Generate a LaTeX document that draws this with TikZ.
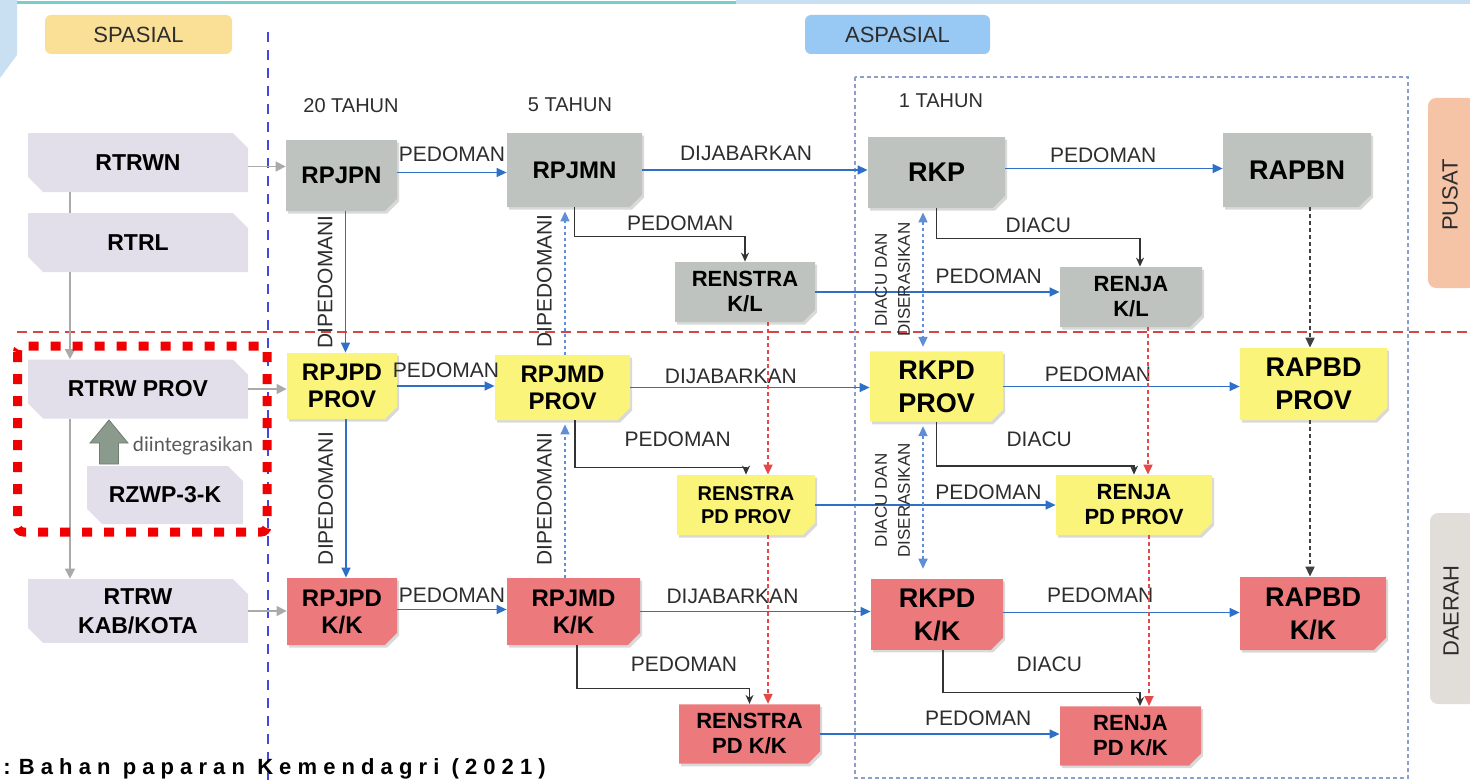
\documentclass[tikz,border=0pt]{standalone}
\usepackage{fontspec}
\setmainfont{Liberation Sans}
\newfontfamily\carlito{Carlito}
\usepackage{tikz}
\usetikzlibrary{calc,positioning,backgrounds}
\usetikzlibrary{shapes,shapes.misc,arrows.meta,shadows}

\definecolor{abu}{RGB}{190,195,192}
\definecolor{kuning}{RGB}{250,244,122}
\definecolor{merah}{RGB}{236,122,124}
\definecolor{lavender}{RGB}{226,222,234}
\definecolor{spasialfill}{RGB}{250,224,150}
\definecolor{aspasialfill}{RGB}{152,200,244}
\definecolor{pusatfill}{RGB}{245,196,166}
\definecolor{daerahfill}{RGB}{225,221,217}
\definecolor{panahbiru}{RGB}{46,112,200}
\definecolor{titikbiru}{RGB}{95,142,215}
\definecolor{titikmerah}{RGB}{228,72,72}
\definecolor{garismerah}{RGB}{210,70,70}
\definecolor{garisungu}{RGB}{70,70,225}
\definecolor{bingkai}{RGB}{140,160,205}
\definecolor{teks}{RGB}{45,45,45}
\definecolor{garisabu}{RGB}{170,170,170}
\definecolor{panahhijau}{RGB}{138,154,140}
\definecolor{hijaugaris}{RGB}{110,125,112}
\definecolor{merahterang}{RGB}{240,0,0}
\definecolor{garisteal}{RGB}{120,205,205}
\definecolor{hiasbiru}{RGB}{200,224,242}

\newcommand{\isibox}{\bfseries\fontsize{12}{13.5}\selectfont}
\newcommand{\isiboxbesar}{\bfseries\fontsize{13.5}{16.5}\selectfont}
\newcommand{\isiboxkecil}{\bfseries\fontsize{11}{12.5}\selectfont}
\newcommand{\isilabel}{\fontsize{10.5}{12}\selectfont}
\newcommand{\isidiacu}{\fontsize{8.5}{11.5}\selectfont}

\begin{document}
\begin{tikzpicture}[x=0.5pt,y=-0.5pt,inner sep=0.4mm,
  dok/.style={chamfered rectangle,chamfered rectangle corners=south east,
    chamfered rectangle xsep=2.5pt,align=center,font=\isibox,text=black,
    drop shadow={shadow xshift=1pt,shadow yshift=-1.3pt,opacity=0.3}},
  ruang/.style={chamfered rectangle,chamfered rectangle corners={north east,south west},
    chamfered rectangle xsep=4pt,fill=lavender,align=center,text=black,
    font=\bfseries\fontsize{11.5}{14.5}\selectfont,minimum width=110pt,minimum height=29.5pt},
  judul/.style={rounded corners=3pt,minimum height=19.5pt,text=teks,
    font=\fontsize{11}{13}\selectfont},
  lbl/.style={font=\isilabel,text=teks},
  tegak/.style={lbl,xshift=-5pt,rotate=90,anchor=south},
  biru/.style={draw=panahbiru,line width=0.7pt,-{Triangle[length=5pt,width=4.5pt]}},
  titik/.style={draw=titikbiru,line width=0.8pt,dash pattern=on 1.5pt off 1.5pt,
    -{Triangle[length=5pt,width=4.5pt]},shorten >=2pt},
  ganda/.style={titik,{Triangle[length=5pt,width=4.5pt]}-{Triangle[length=5pt,width=4.5pt]}},
  hitam/.style={draw=black!80,line width=0.7pt,-{Stealth[length=4.5pt,width=4pt]}},
  merahtitik/.style={draw=titikmerah,line width=0.9pt,dash pattern=on 2pt off 1.5pt,
    -{Triangle[length=5pt,width=4.5pt]}},
  hitamputus/.style={draw=black!75,line width=0.9pt,dash pattern=on 2pt off 1.5pt,
    -{Triangle[length=5pt,width=4.5pt]}},
  abugaris/.style={draw=garisabu,line width=0.8pt},
  abupanah/.style={abugaris,-{Triangle[length=5pt,width=5pt]}}]
\useasboundingbox (0,0) rectangle (1470,781);

% hiasan atas
\fill[hiasbiru] (0,0) -- (17,0) -- (17,55) -- (0,78) -- cycle;
\draw[garisteal,line width=1.5pt] (17,3) -- (736,3);
\draw[hiasbiru,line width=2pt] (736,2) -- (1470,2);

% judul kolom
\node (spasial) at (138.5,34.5) [judul,fill=spasialfill,minimum width=93.5pt] {SPASIAL};
\node (aspasial) at (897.5,34.5) [judul,fill=aspasialfill,minimum width=92.5pt] {ASPASIAL};

% garis pemisah dan bingkai 1 tahun
\draw[garisungu,line width=1.3pt,dash pattern=on 5pt off 4pt] (268,32) -- (268,781);
\draw[garismerah,line width=1.3pt,dash pattern=on 5pt off 3pt] (17,332) -- (1470,332);
\draw[bingkai,line width=0.6pt,dash pattern=on 2pt off 1.5pt] (855,77) rectangle (1408,778);

% tab pusat / daerah
\fill[pusatfill,rounded corners=4pt] (1476,98) -- (1428,98) -- (1428,288) -- (1476,288) -- cycle;
\fill[daerahfill,rounded corners=4pt] (1476,513) -- (1430,513) -- (1430,704) -- (1476,704) -- cycle;
\node (pusat) at (1450,195) [lbl,rotate=90,font=\fontsize{11}{13}\selectfont] {PUSAT};
\node (daerah) at (1451,611) [lbl,rotate=90,font=\fontsize{11}{13}\selectfont] {DAERAH};

% jangka waktu
\node (th20) at (351,106) [lbl,font=\fontsize{10}{12}\selectfont] {20 TAHUN};
\node (th5) at (570,104.5) [lbl,font=\fontsize{10}{12}\selectfont] {5 TAHUN};
\node (th1) at (941,101) [lbl,font=\fontsize{10}{12}\selectfont] {1 TAHUN};

% rencana tata ruang
\node (rtrwn) at (138,162.5) [ruang] {RTRWN};
\node (rtrl) at (138,242.5) [ruang] {RTRL};
\node (rtrwprov) at (138,389) [ruang] {RTRW PROV};
\node (rzwp) at (165,495) [ruang,minimum width=78pt,minimum height=29pt] {RZWP-3-K};
\node (rtrwkk) at (138,611) [ruang] {RTRW\\KAB/KOTA};

\draw[abugaris] ([xshift=-34pt]rtrwn.south) -- ([xshift=-34pt]rtrl.north);
\draw[abupanah] ([xshift=-34pt]rtrl.south) -- ([xshift=-34pt]rtrwprov.north);
\draw[abupanah] ([xshift=-34pt]rtrwprov.south) -- ([xshift=-34pt]rtrwkk.north);

\filldraw[fill=panahhijau,draw=hijaugaris] (99.5,464) -- (99.5,443) -- (90,443) -- (109,420)
  -- (128,443) -- (118.5,443) -- (118.5,464) -- cycle;
\node (integrasi) at (193,446) [text=black!65,font=\carlito\fontsize{10.6}{12}\selectfont] {diintegrasikan};
\draw[merahterang,line width=4.5pt,dash pattern=on 5pt off 6pt,rounded corners=3pt]
  (17.5,346) rectangle (267,532);

% baris pusat
\node (rpjpn) at (341.5,175.5) [dok,fill=abu,minimum width=55.5pt,minimum height=35.5pt] {RPJPN};
\node (rpjmn) at (574.5,170) [dok,fill=abu,minimum width=67.5pt,minimum height=37pt] {RPJMN};
\node (rkp) at (936.5,172.5) [dok,fill=abu,font=\isiboxbesar,minimum width=68.5pt,minimum height=35.5pt] {RKP};
\node (rapbn) at (1297,170) [dok,fill=abu,font=\isiboxbesar,minimum width=74pt,minimum height=37pt] {RAPBN};
\node (renstrakl) at (745,292) [dok,fill=abu,font=\isiboxkecil,minimum width=70pt,minimum height=30pt] {RENSTRA\\K/L};
\node (renjakl) at (1131,297) [dok,fill=abu,font=\isiboxkecil,minimum width=71pt,minimum height=30pt] {RENJA\\K/L};

% baris provinsi
\node (rpjpdprov) at (342,386) [dok,fill=kuning,minimum width=55pt,minimum height=33pt] {RPJPD\\PROV};
\node (rpjmdprov) at (562.5,387.5) [dok,fill=kuning,minimum width=67.5pt,minimum height=32.5pt] {RPJMD\\PROV};
\node (rkpdprov) at (936.5,386.5) [dok,fill=kuning,font=\isiboxbesar,minimum width=66.5pt,minimum height=33.5pt] {RKPD\\PROV};
\node (rapbdprov) at (1313.5,384) [dok,fill=kuning,font=\isiboxbesar,minimum width=73.5pt,minimum height=36pt] {RAPBD\\PROV};
\node (renstrapdprov) at (746,505) [dok,fill=kuning,font=\bfseries\fontsize{10}{11.5}\selectfont,minimum width=69pt,minimum height=30pt] {RENSTRA\\PD PROV};
\node (renjapdprov) at (1134,505) [dok,fill=kuning,font=\isiboxkecil,minimum width=78pt,minimum height=30pt] {RENJA\\PD PROV};

% baris kab/kota
\node (rpjpdkk) at (342,611.5) [dok,fill=merah,minimum width=55pt,minimum height=33.5pt] {RPJPD\\K/K};
\node (rpjmdkk) at (573.5,611.5) [dok,fill=merah,minimum width=66.5pt,minimum height=33.5pt] {RPJMD\\K/K};
\node (rkpdkk) at (937,614.5) [dok,fill=merah,font=\isiboxbesar,minimum width=66pt,minimum height=32.5pt] {RKPD\\K/K};
\node (rapbdkk) at (1313,613.5) [dok,fill=merah,font=\isiboxbesar,minimum width=73pt,minimum height=36.5pt] {RAPBD\\K/K};
\node (renstrapdkk) at (749.5,734) [dok,fill=merah,font=\isiboxkecil,minimum width=70.5pt,minimum height=29pt] {RENSTRA\\PD K/K};
\node (renjapdkk) at (1130.5,736) [dok,fill=merah,font=\isiboxkecil,minimum width=70.5pt,minimum height=29pt] {RENJA\\PD K/K};

% tata ruang -> rpjp
\draw[abupanah] ([yshift=-2pt]rtrwn.east) -- ([yshift=-2pt]rtrwn.east -| rpjpn.west);
\draw[abupanah] (rtrwprov.east) -- (rtrwprov.east -| rpjpdprov.west);
\draw[abupanah] (rtrwkk.east) -- (rtrwkk.east -| rpjpdkk.west);

% panah mendatar
\draw[biru] ([yshift=1.5pt]rpjpn.east) -- node[lbl,above=4pt] {PEDOMAN} ([yshift=1.5pt]rpjpn.east -| rpjmn.west);
\draw[biru] (rpjmn.east) -- node[lbl,above=3pt,pos=0.46] {DIJABARKAN} (rpjmn.east -| rkp.west);
\draw[biru] ([yshift=2pt]rkp.east) -- node[lbl,above=1.5pt,pos=0.45] {PEDOMAN} ([yshift=2pt]rkp.east -| rapbn.west);
\draw[biru] (renstrakl.east) -- node[lbl,above=2.5pt,pos=0.71] {PEDOMAN} (renstrakl.east -| renjakl.west);

\draw[biru] (rpjpdprov.east) -- node[lbl,above=2.5pt] {PEDOMAN} (rpjpdprov.east -| rpjmdprov.west);
\draw[biru] (rpjmdprov.east) -- node[lbl,above=0.5pt,pos=0.42] {DIJABARKAN} (rpjmdprov.east -| rkpdprov.west);
\draw[biru] (rkpdprov.east) -- node[lbl,above=1pt,pos=0.4] {PEDOMAN} (rkpdprov.east -| rapbdprov.west);
\draw[biru] (renstrapdprov.east) -- node[lbl,above=1pt,pos=0.72] {PEDOMAN} (renstrapdprov.east -| renjapdprov.west);

\draw[biru] ([yshift=1pt]rpjpdkk.east) -- node[lbl,above=2pt] {PEDOMAN} ([yshift=1pt]rpjpdkk.east -| rpjmdkk.west);
\draw[biru] (rpjmdkk.east) -- node[lbl,above=2.5pt,pos=0.4] {DIJABARKAN} (rpjmdkk.east -| rkpdkk.west);
\draw[biru] ([yshift=1pt]rkpdkk.east) -- node[lbl,above=3.5pt,pos=0.41] {PEDOMAN} ([yshift=1pt]rkpdkk.east -| rapbdkk.west);
\draw[biru] (renstrapdkk.east) -- node[lbl,above=2.5pt,pos=0.66] {PEDOMAN} (renstrapdkk.east -| renjapdkk.west);

% panah menurun rpjp
\draw[biru] ([xshift=2pt]rpjpn.south) -- node[tegak] {DIPEDOMANI} ([xshift=2pt]rpjpn.south |- rpjpdprov.north);
\draw[biru] ([xshift=2pt]rpjpdprov.south) -- node[tegak] {DIPEDOMANI} ([xshift=2pt]rpjpdprov.south |- rpjpdkk.north);

% rpjm dipedomani (ke atas)
\draw[titik] ([xshift=1.25pt]rpjmdprov.north) -- node[tegak] {DIPEDOMANI} ([xshift=1.25pt]rpjmdprov.north |- rpjmn.south);
\draw[titik] ([xshift=-4.25pt]rpjmdkk.north) -- node[tegak] {DIPEDOMANI} ([xshift=-4.25pt]rpjmdkk.north |- rpjmdprov.south);

% rkp diacu dan diserasikan
\draw[ganda,shorten <=2pt] ([xshift=-6.75pt]rkp.south) -- node[tegak,font=\isidiacu,align=center] {DIACU DAN\\DISERASIKAN} ([xshift=-6.75pt]rkp.south |- rkpdprov.north);
\draw[ganda,shorten <=2pt,shorten >=5pt] ([xshift=-6.75pt]rkpdprov.south) -- node[tegak,font=\isidiacu,align=center] {DIACU DAN\\DISERASIKAN} ([xshift=-6.75pt]rkpdprov.south |- rkpdkk.north);

% pedoman / diacu ke renstra dan renja
\draw[hitam] (rpjmn.south) -- ++(0,29) -| node[lbl,above=1.5pt,pos=0.31] {PEDOMAN} (renstrakl.north);
\draw[hitam] (rkp.south) -- ++(0,30) -| node[lbl,above=1.5pt,pos=0.25] {DIACU} ([xshift=4.5pt]renjakl.north);
\draw[hitam] ([xshift=6.25pt]rpjmdprov.south) -- ++(0,47) -| node[lbl,above=9pt,pos=0.3] {PEDOMAN} (renstrapdprov.north);
\draw[hitam] (rkpdprov.south) -- ++(0,44) -| node[lbl,above=8pt,pos=0.26] {DIACU} (renjapdprov.north);
\draw[hitam] ([xshift=1.75pt]rpjmdkk.south) -- ++(0,43) -| node[lbl,above=7pt,pos=0.31] {PEDOMAN} (renstrapdkk.north);
\draw[hitam] ([xshift=3pt]rkpdkk.south) -- ++(0,42) -| node[lbl,above=9pt,pos=0.27] {DIACU} ([xshift=4.75pt]renjapdkk.north);

% renstra / renja pusat -> daerah
\draw[merahtitik] ([xshift=11.5pt]renstrakl.south) -- ([xshift=11.5pt]renstrakl.south |- renstrapdprov.north);
\draw[merahtitik] ([xshift=11pt]renstrapdprov.south) -- ([xshift=11pt]renstrapdprov.south |- renstrapdkk.north);
\draw[merahtitik] ([xshift=8.5pt]renjakl.south) -- ([xshift=8.5pt]renjakl.south |- renjapdprov.north);
\draw[merahtitik] ([xshift=7.5pt]renjapdprov.south) -- ([xshift=7.5pt]renjapdprov.south |- renjapdkk.north);

% rapbn -> rapbd
\draw[hitamputus] ([xshift=6.5pt]rapbn.south) -- ([xshift=6.5pt]rapbn.south |- rapbdprov.north);
\draw[hitamputus] ([xshift=-1.75pt]rapbdprov.south) -- ([xshift=-1.75pt]rapbdprov.south |- rapbdkk.north);

% sumber
\node (sumber) at (3,774) [anchor=base west,inner sep=0pt,font=\bfseries\fontsize{11}{13}\selectfont]
  {: B a h a n \ p a p a r a n \ K e m e n d a g r i \ ( 2 0 2 1 )};

\end{tikzpicture}
\end{document}
